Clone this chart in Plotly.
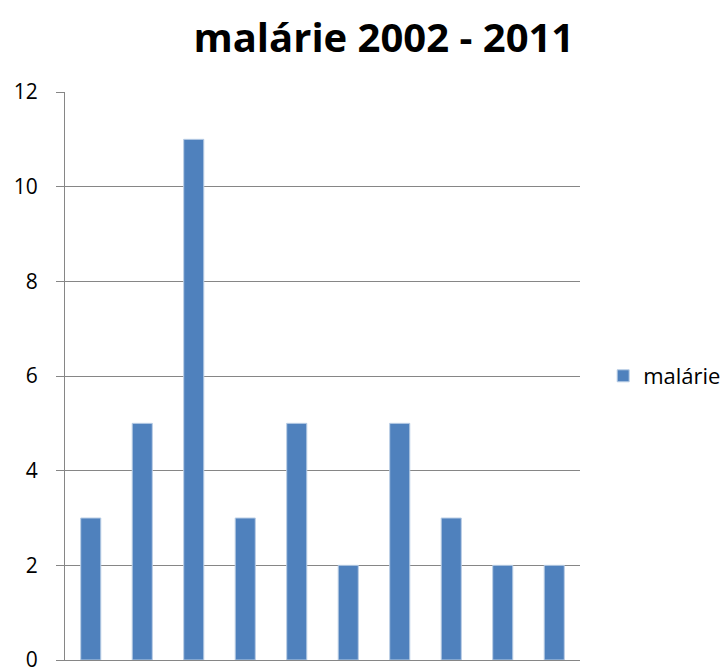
import plotly.graph_objects as go

years = ["2002", "2003", "2004", "2005", "2006", "2007", "2008", "2009", "2010", "2011"]
malarie = [3, 5, 11, 3, 5, 2, 5, 3, 2, 2]
y_ticks = [0, 2, 4, 6, 8, 10, 12]

fig = go.Figure()

fig.add_trace(go.Bar(
    x=years,
    y=malarie,
    name="malárie",
    marker=dict(color="#4F81BD", line=dict(color="#B9CDE5", width=1)),
    showlegend=True
))

# page body has an 8px margin, so the figure is a bit smaller than the window
fig.update_layout(
    width=720,
    height=659,
    paper_bgcolor="white",
    plot_bgcolor="white",
    font=dict(family="Open Sans, DejaVu Sans, sans-serif", color="black", size=21),
    title=dict(
        text="<b>malárie 2002 - 2011</b>",
        font=dict(size=40, color="black"),
        x=0.522,
        xref="container",
        xanchor="center",
        y=0.955,
        yref="container",
        yanchor="middle"
    ),
    margin=dict(l=57, r=148, t=84, b=7, autoexpand=False),
    bargap=0.61,
    legend=dict(
        x=1.045,
        y=0.5,
        xanchor="left",
        yanchor="middle",
        font=dict(size=22)
    )
)

fig.update_xaxes(
    showticklabels=False,
    showline=True,
    linecolor="#868686",
    linewidth=1,
    showgrid=False,
    ticks=""
)

fig.update_yaxes(
    range=[0, 12],
    tickvals=y_ticks,
    showline=True,
    linecolor="#868686",
    linewidth=1,
    showgrid=True,
    gridcolor="#868686",
    gridwidth=1,
    ticks="outside",
    ticklen=8,
    tickcolor="#868686",
    ticklabelstandoff=14,
    ticklabeloverflow="allow",
    zeroline=False
)

fig.write_html("out.html")
